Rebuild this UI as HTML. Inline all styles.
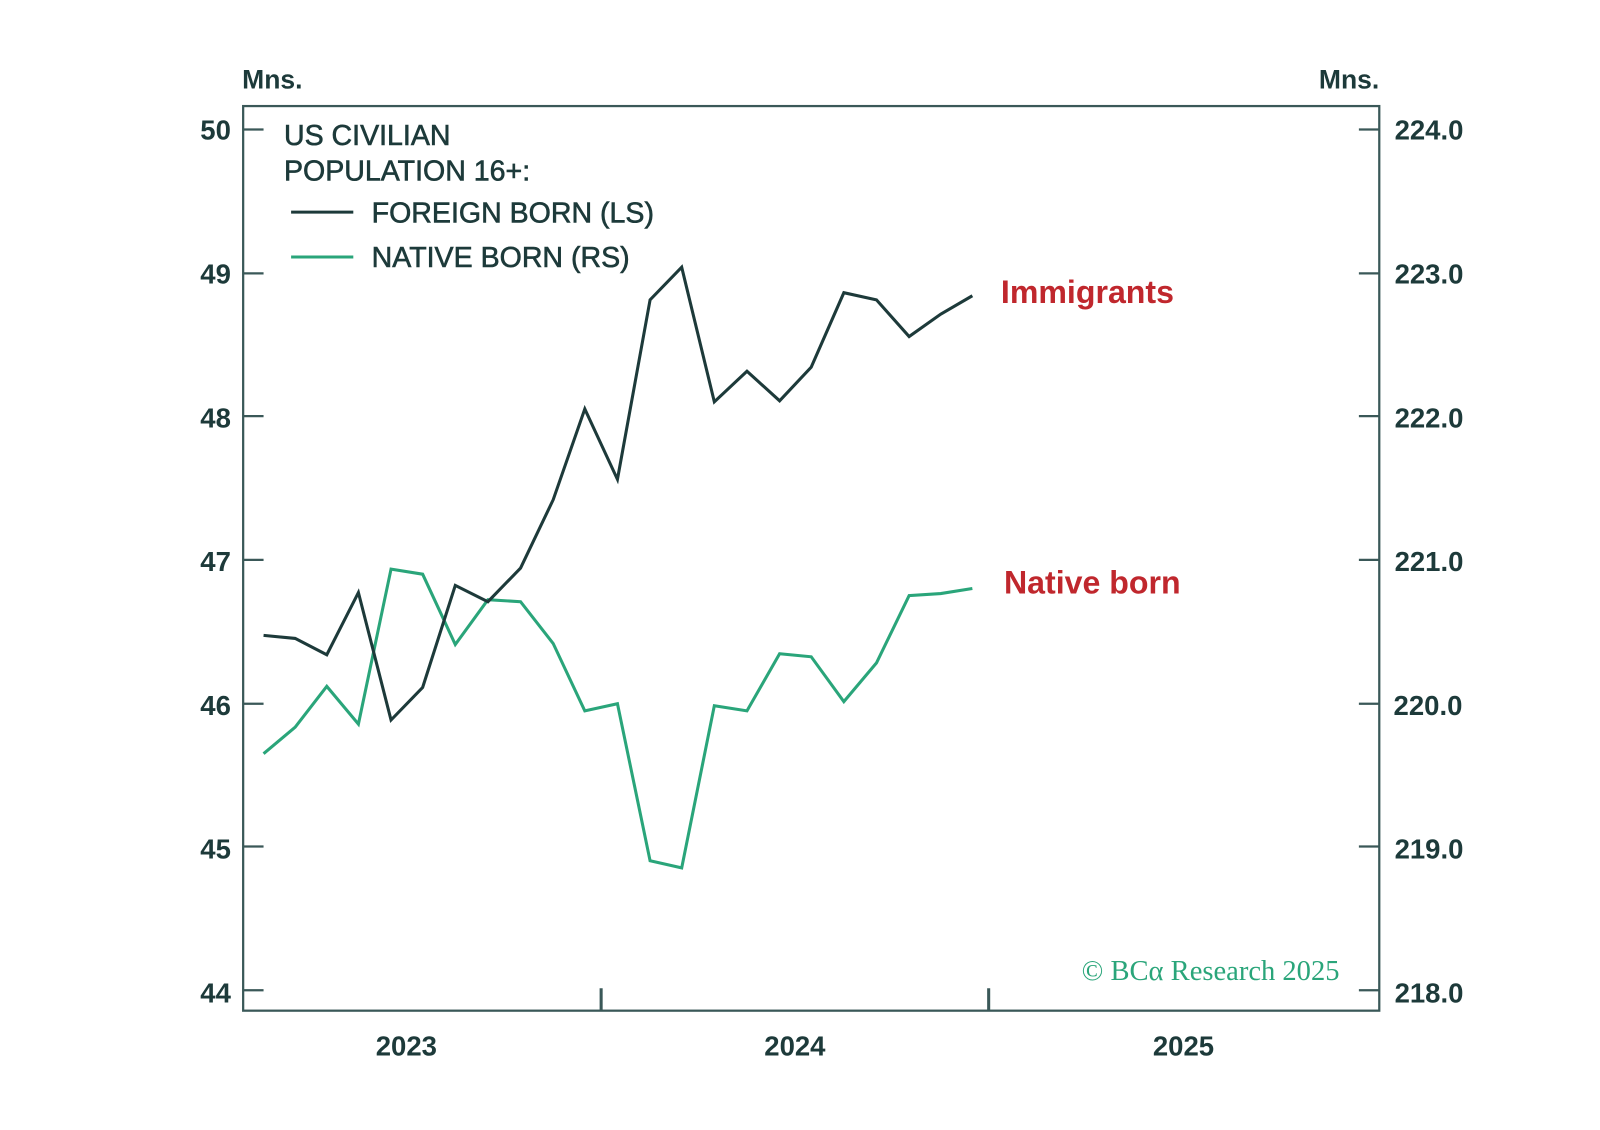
<!DOCTYPE html>
<html><head><style>html,body{margin:0;padding:0;background:#fff}svg{display:block}</style></head><body>
<svg width="1600" height="1130" viewBox="0 0 1568 1108" xmlns="http://www.w3.org/2000/svg" font-family="'Liberation Sans', sans-serif">
<rect width="1568" height="1108" fill="#fff"/>
<g fill="#1d3a3a" font-weight="bold">
<g font-size="26">
<text x="237" y="87">Mns.</text>
<text x="1352" y="87" text-anchor="end">Mns.</text>
</g>
<g font-size="27">
<text x="226" y="137" text-anchor="end">50</text>
<text x="226" y="278" text-anchor="end">49</text>
<text x="226" y="419" text-anchor="end">48</text>
<text x="226" y="560" text-anchor="end">47</text>
<text x="226" y="701" text-anchor="end">46</text>
<text x="226" y="842" text-anchor="end">45</text>
<text x="226" y="983" text-anchor="end">44</text>
<text x="1367" y="137">224.0</text>
<text x="1367" y="278">223.0</text>
<text x="1367" y="419">222.0</text>
<text x="1367" y="560">221.0</text>
<text x="1366" y="701">220.0</text>
<text x="1367" y="842">219.0</text>
<text x="1367" y="983">218.0</text>
<text x="398" y="1035" text-anchor="middle">2023</text>
<text x="779" y="1035" text-anchor="middle">2024</text>
<text x="1160" y="1035" text-anchor="middle">2025</text>
</g>
</g>
<g stroke="#3a5858" stroke-width="2.2" fill="none">
<rect x="238" y="104" width="1114" height="887"/>
<path d="M238 127h20M238 268h20M238 408h20M238 549h20M238 690h20M238 830h20M238 971h20"/>
<path d="M1352 127h-20M1352 268h-20M1352 408h-20M1352 549h-20M1352 690h-20M1352 830h-20M1352 971h-20"/>
<path d="M589 991v-22M969 991v-22" stroke-width="3"/>
</g>
<g fill="#1d3a3a" font-size="28" stroke="#1d3a3a" stroke-width="0.6">
<text x="278" y="142">US CIVILIAN</text>
<text x="278" y="177">POPULATION 16+:</text>
<text x="364" y="218">FOREIGN BORN (LS)</text>
<text x="364" y="262">NATIVE BORN (RS)</text>
</g>
<path d="M285 208h61" stroke="#1d3a3a" stroke-width="3"/>
<path d="M285 252h61" stroke="#2aa57a" stroke-width="3"/>
<polyline fill="none" stroke="#2aa57a" stroke-width="3" points="258,739 289,713 320,673 351,710 383,558 414,563 446,632 478,588 510,590 542,631 573,697 605,690 637,844 668,851 700,692 732,697 764,641 795,644 827,688 859,650 891,584 922,582 953,577"/>
<polyline fill="none" stroke="#1d3a3a" stroke-width="3" points="258,623 289,626 320,642 351,581 383,706 414,674 446,574 478,590 510,557 542,490 573,401 605,470 637,294 668,262 700,394 732,364 764,393 795,360 827,287 859,294 891,330 922,308 953,290"/>
<g fill="#c0272d" font-size="31.5" font-weight="bold">
<text x="981" y="297">Immigrants</text>
<text x="984" y="582">Native born</text>
</g>
<text x="1313" y="961" text-anchor="end" fill="#2aa57a" font-family="'Liberation Serif', serif" font-size="28">© BCα Research 2025</text>
</svg>
</body></html>
